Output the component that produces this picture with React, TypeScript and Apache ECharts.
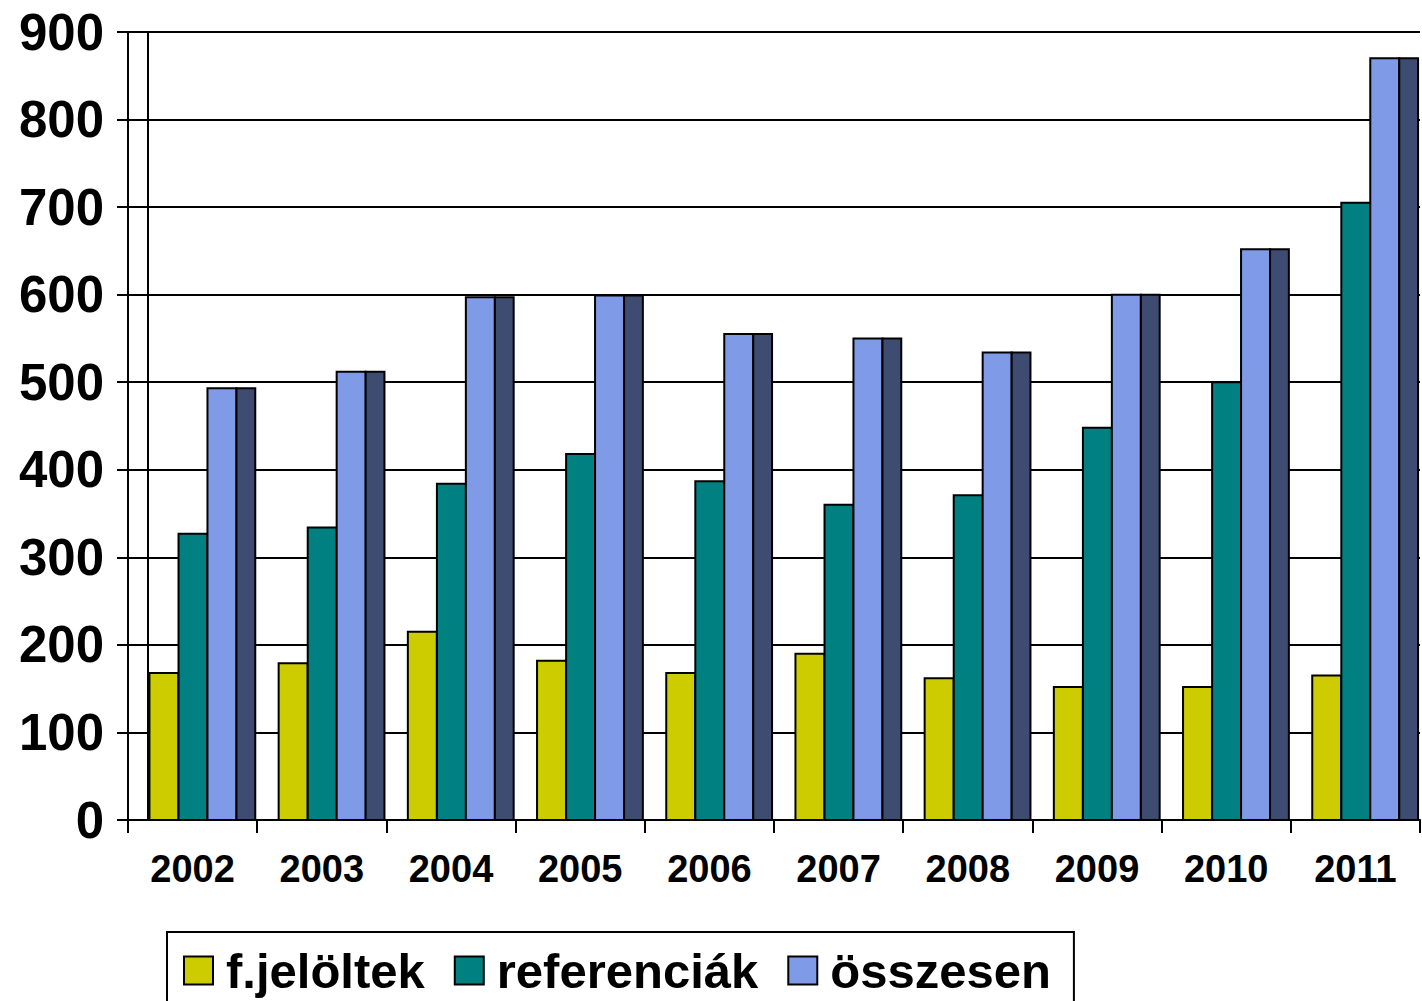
import React, { useEffect, useRef } from "react";
import * as echarts from "echarts";

const years = ["2002", "2003", "2004", "2005", "2006", "2007", "2008", "2009", "2010", "2011"];
const jeloltek = [168, 179, 215, 182, 168, 190, 162, 152, 152, 165];
const referenciak = [327, 334, 384, 418, 387, 360, 371, 448, 500, 705];
const osszesen = [493, 512, 597, 599, 555, 550, 534, 600, 652, 870];
const seriesNames = ["f.jelöltek", "referenciák", "összesen"];
const colors = ["#cccc00", "#008080", "#7f9ae6"];
const sideColor = "#3d4c70";

const FONT = "'Liberation Sans', Arial, sans-serif";

export default function App() {
  const ref = useRef<HTMLDivElement>(null);
  useEffect(() => {
    document.body.style.margin = "0";
    const chart = echarts.init(ref.current!, null, { renderer: "svg" });
    const offsets = [0.166, 0.391, 0.615];
    const barFrac = 0.2245;
    const sideEnd = 0.985;
    const makeSeries = (idx: number, values: number[]) => ({
      type: "custom",
      name: seriesNames[idx],
      itemStyle: { color: colors[idx], borderColor: "#000", borderWidth: 2 },
      encode: { x: 0, y: 1 },
      data: values.map((v, i) => [i, v]),
      renderItem: (params: any, api: any) => {
        const ci = api.value(0);
        const v = api.value(1);
        const top = api.coord([ci, v]);
        const base = api.coord([ci, 0]);
        const bw = api.size([1, 0])[0];
        const start = base[0] - bw / 2;
        const x0 = start + offsets[idx] * bw;
        const w = barFrac * bw;
        const children: any[] = [
          {
            type: "rect",
            shape: { x: x0, y: top[1], width: w, height: base[1] - top[1] },
            style: { fill: colors[idx], stroke: "#000", lineWidth: 2 },
          },
        ];
        if (idx === 2) {
          const xe = start + sideEnd * bw;
          children.push({
            type: "polygon",
            shape: {
              points: [
                [x0 + w, top[1]],
                [xe, top[1]],
                [xe, base[1]],
                [x0 + w, base[1]],
              ],
            },
            style: { fill: sideColor, stroke: "#000", lineWidth: 2 },
          });
        }
        return { type: "group", children };
      },
    });

    const gridLeft = 128;
    const gridTop = 32;
    const gridBottom = 181;

    chart.setOption({
      animation: false,
      backgroundColor: "#fff",
      grid: { left: gridLeft, right: 2, top: gridTop, bottom: gridBottom, containLabel: false },
      xAxis: {
        type: "category",
        data: years,
        boundaryGap: true,
        axisLine: { show: true, lineStyle: { color: "#000", width: 2 } },
        axisTick: { show: true, length: 13, lineStyle: { color: "#000", width: 2 } },
        axisLabel: {
          color: "#000",
          fontSize: 38,
          fontWeight: "bold",
          fontFamily: FONT,
          margin: 30,
        },
        splitLine: { show: false },
      },
      yAxis: {
        type: "value",
        min: 0,
        max: 900,
        interval: 100,
        axisLine: { show: true, lineStyle: { color: "#000", width: 2 } },
        axisTick: { show: true, length: 11, lineStyle: { color: "#000", width: 2 } },
        axisLabel: {
          color: "#000",
          fontSize: 51,
          fontWeight: "bold",
          fontFamily: FONT,
          margin: 24,
        },
        splitLine: { show: true, lineStyle: { color: "#000", width: 2 } },
      },
      legend: {
        left: 167,
        top: 932,
        orient: "horizontal",
        data: seriesNames,
        icon: "rect",
        itemWidth: 29,
        itemHeight: 28,
        itemGap: 29,
        borderColor: "#000",
        borderWidth: 2,
        padding: [14, 23, 30, 16],
        itemStyle: { borderColor: "#000", borderWidth: 2 },
        textStyle: {
          color: "#000",
          fontSize: 49,
          fontWeight: "bold",
          fontFamily: FONT,
          padding: [0, 0, 0, 8],
        },
      },
      graphic: [
        {
          type: "line",
          shape: { x1: gridLeft + 20, y1: gridTop, x2: gridLeft + 20, y2: 1001 - gridBottom },
          style: { stroke: "#000", lineWidth: 2 },
          z: 1,
        },
      ],
      series: [makeSeries(0, jeloltek), makeSeries(1, referenciak), makeSeries(2, osszesen)],
    });
    return () => chart.dispose();
  }, []);
  return (
    <div
      ref={ref}
      style={{ position: "absolute", left: 0, top: 0, width: 1422, height: 1001 }}
    />
  );
}
